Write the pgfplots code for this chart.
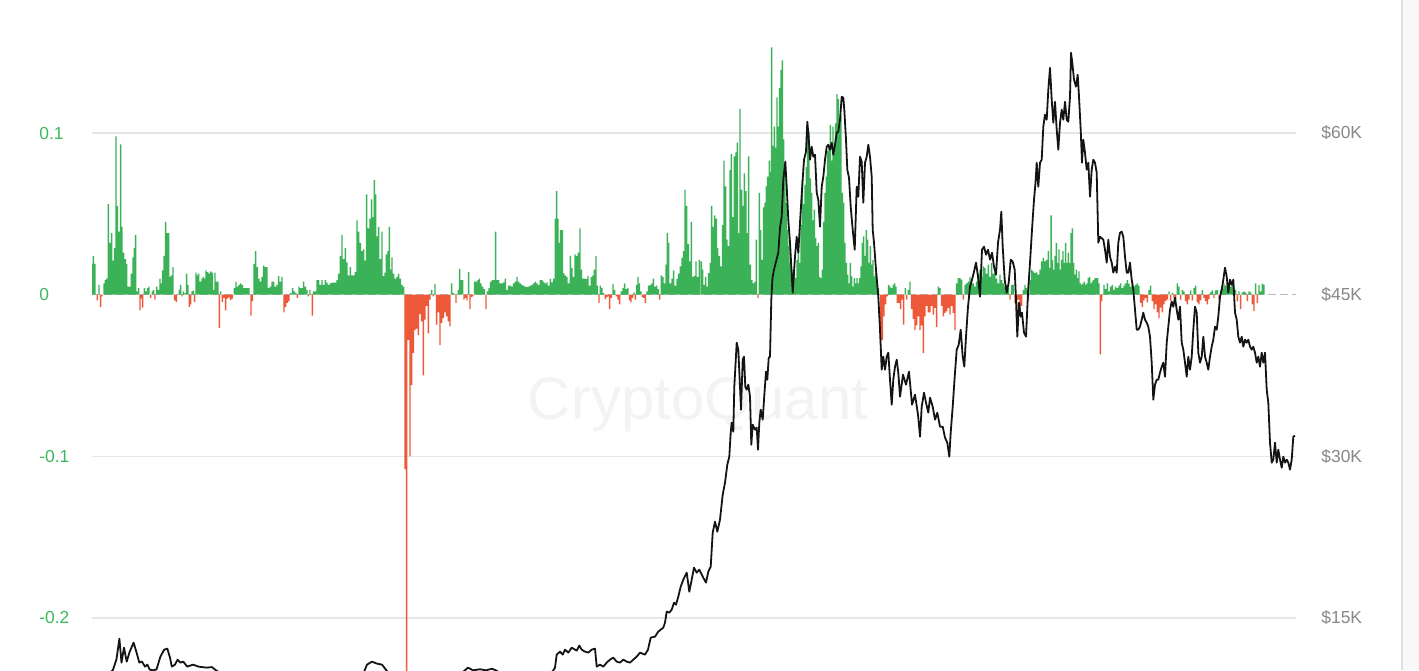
\documentclass[border=0pt]{standalone}
\usepackage{fontspec}
\setmainfont{Liberation Sans}
\usepackage{pgfplots}
\usepackage{pgfplotstable}
\pgfplotsset{compat=1.18}
\definecolor{cqgreen}{RGB}{59,178,88}
\definecolor{cqred}{RGB}{236,88,56}
\definecolor{gridc}{RGB}{229,229,234}
\definecolor{zeroc}{RGB}{185,185,190}
\definecolor{lblgreen}{RGB}{62,184,92}
\definecolor{lblgray}{RGB}{135,135,140}
\definecolor{wm}{RGB}{243,243,246}
\definecolor{sbfill}{RGB}{248,248,249}
\definecolor{sbline}{RGB}{222,222,230}

\pgfplotstableread{
x v
91.7 0.019
93.3 0.024
95 0.019
97.3 -0.0035
99 0.006
100.7 -0.0076
102 -0.001
104 0.007
105.3 0.009
106.7 0.010
108.3 0.056
110 0.032
111.7 0.038
113.3 0.021
114.7 0.029
116 0.098
117.3 0.055
119 0.039
120.7 0.093
122 0.042
123.7 0.026
125.3 0.022
126.7 0.019
128.3 0.005
130 0.005
131.3 0.013
133 0.023
134.3 0.029
135.7 0.037
137.3 0.002
138.7 0.004
140 -0.0097
141.3 -0.0025
142.7 -0.008
144.3 0.004
146 0.002
147.7 0.004
149 0.005
150.7 -0.002
152.3 0.002
153.7 0.003
155 -0.003
156.7 0.005
158.3 0.003
160 0.010
161.3 0.007
162.7 0.015
164 0.024
165.7 0.045
167.3 0.038
168.7 0.038
170 0.011
171.3 0.012
173 0.017
174.7 -0.0035
176.3 -0.0045
179.3 0.003
180.7 0.006
182 -0.001
183.3 0.002
185.3 0.001
186.7 0.013
188 0.006
189.3 -0.0076
190.7 -0.006
192 0.002
193.3 0.0025
194.7 -0.0045
196 0.0136
197.3 0.012
198.7 0.013
200.3 0.008
202 0.010
203.3 0.011
204.7 0.010
206 0.015
207.7 0.014
209.3 0.013
210.7 0.0144
212.3 0.0136
213.7 0.003
215 0.0136
216.7 0.008
218 0.008
219.3 -0.0206
220.7 0.002
222.3 -0.0045
224 -0.002
225.7 -0.0097
227.3 -0.0025
229 -0.0016
230.7 -0.0033
232.3 -0.0025
234.3 0.004
236 0.008
237.3 0.005
239 0.006
240.7 0.007
242.3 0.006
244 0.004
245.7 0.004
247.3 0.004
249 0.004
251 -0.013
252.3 -0.004
254 0.019
255.7 0.027
257.3 0.017
259 0.010
260.7 0.008
262 0.011
263.7 0.018
265.3 0.017
267 0.017
268.7 0.004
270.3 0.005
272 0.008
273.7 0.008
275.3 0.005
277 0.006
278.7 0.0115
280.3 0.008
282 0.011
284 -0.011
285.7 -0.0076
287.3 -0.005
289 -0.004
290.7 0.001
292.7 0.004
294.3 0.002
296 0.001
297.3 -0.002
299 0.005
300.3 0.004
302 0.004
303.7 0.008
305.3 0.005
307 0.003
308.3 -0.001
310 0.003
312.3 -0.013
313.7 0.002
315.3 0.002
317 0.009
318.7 0.009
320.3 0.006
322 0.009
323.7 0.006
325.3 0.009
327 0.0074
328.7 0.006
330.3 0.007
332 0.0074
333.7 0.0074
335.3 0.0074
337 0.009
338.7 0.013
340.3 0.024
342 0.037
343.7 0.022
345.3 0.029
347 0.020
348.7 0.012
350.3 0.017
352 0.012
353.7 0.012
355.3 0.014
357 0.046
358.7 0.039
360.3 0.032
362 0.027
363.7 0.028
365.3 0.021
366.7 0.062
368.3 0.041
370 0.047
371.7 0.059
373 0.048
374.3 0.071
375.7 0.062
377.3 0.036
378.7 0.042
380.3 0.022
382 0.039
383.7 0.0115
385 0.0136
386.3 0.025
388 0.027
389.3 0.042
390.7 0.0155
392 0.023
393.7 0.013
395.3 0.010
397 0.011
398.7 0.013
400.3 0.010
402 0.006
403.7 0.005
405 -0.108
406.7 -0.30
408.3 -0.028
410 -0.100
411.7 -0.056
413.3 -0.036
415 -0.022
416.7 -0.021
418.3 -0.025
420 -0.012
421.7 -0.0165
423.3 -0.050
425 -0.0155
426.7 -0.007
428.3 -0.024
430 -0.003
431.7 0.003
433.3 -0.001
435 0.0066
436.7 -0.0185
438.3 -0.011
440 -0.031
441.7 -0.0175
443.3 -0.0145
445 -0.011
446.7 -0.0134
448.3 -0.0165
450 -0.0196
451.7 0.007
453.3 0.001
456 -0.005
458.3 0.003
459.7 0.016
461.3 0.009
462.7 0.009
464 -0.003
465.7 -0.002
467 -0.0035
468.7 0.014
470 -0.009
471.3 -0.0015
473 -0.001
474.7 0.008
476.3 0.008
478 0.009
479.3 0.010
481 0.007
482.7 0.005
484.3 0.0035
486 -0.009
487.3 0.002
489 0.004
490.7 0.008
492.3 0.009
494 0.009
495.7 0.039
497 0.009
498.7 0.009
500.3 0.007
502 0.007
503.7 0.0076
505.3 0.010
507 0.003
508.7 0.0056
510.3 0.0056
512 0.005
513.7 0.007
515.3 0.008
517 0.011
518.7 0.008
520.3 0.007
522 0.006
523.7 0.0056
525.3 0.005
527 0.0047
528.7 0.005
530.3 0.0056
532 0.006
533.7 0.007
535.3 0.008
537 0.007
538.7 0.006
540.3 0.009
542 0.009
543.7 0.008
545.3 0.007
547 0.0076
548.7 0.0056
550.3 0.0097
552 0.0076
553.7 0.010
555.3 0.047
556.7 0.064
558 0.047
559.3 0.032
560.7 0.040
562.3 0.040
563.7 0.0134
565.3 0.012
567 0.011
568.7 0.007
570.3 0.024
572 0.0165
573.7 0.011
575 0.025
576.7 0.024
578.3 0.026
580 0.041
581.3 0.0155
583 0.010
584.7 0.010
586.3 0.0097
588 0.0117
589.7 0.0056
591.3 0.011
593 0.012
594.3 0.0155
596 0.024
597.3 0.0056
599 -0.005
600.3 0.0056
602 0.004
603.7 0.001
605.3 -0.0027
607 -0.0015
608.7 -0.001
609.7 -0.009
611.3 -0.002
613 0.0066
614.7 0.003
616.3 -0.001
618 -0.003
619.7 -0.006
621.3 0.002
623 0.004
624.7 0.007
626.3 0.0035
628 0.004
629.7 -0.0035
631 -0.0047
632.7 -0.002
634 0.0014
635.3 -0.003
636.7 0.006
638 0.011
639.3 0.007
641 0.002
642.3 -0.0015
643.7 -0.002
645.3 -0.005
647 0.002
648.7 0.0056
650.3 0.006
652 0.007
653.3 0.010
655 0.005
656.7 0.0056
658.3 0.0035
659.7 -0.003
661.3 0.012
663 0.011
664.3 0.007
666 0.0186
667.3 0.038
668.7 0.032
670.3 0.007
672 0.010
673.7 0.015
675.3 0.0056
677 0.0097
678.7 0.013
680.3 0.0175
682 0.0227
683.7 0.027
685 0.065
686.7 0.055
688.3 0.0315
689.7 0.0206
691.3 0.045
693 0.011
694.7 0.0117
696 0.0206
697.7 0.011
699.3 0.0216
701.3 0.0206
702.7 0.0155
704.3 0.006
705.7 0.011
707.3 0.005
708.7 0.0134
710.3 0.0196
711.7 0.055
713.3 0.042
714.7 0.049
716.3 0.047
717.7 0.029
719.3 0.024
721 0.0175
722.7 0.043
724 0.083
725.7 0.067
727 0.034
728.7 0.030
730 0.077
731.3 0.087
733 0.048
734.3 0.0855
736 0.088
737.3 0.094
738.7 0.038
740 0.115
741.7 0.065
743 0.055
744.3 0.075
746 0.064
747.3 0.038
748.7 0.0855
750.3 0.0186
752 0.009
753.3 0.007
755 0.008
756.3 0.034
758 -0.002
759.3 0.063
760.7 0.040
762.3 0.0216
763.7 0.054
765 0.057
766.3 0.067
767.7 0.073
769.3 0.083
770.7 0.076
771.7 0.153
773 0.092
774.3 0.104
775.7 0.091
777 0.122
778.3 0.104
779.7 0.128
781 0.139
782.3 0.145
783.7 0.096
785 0.077
786.3 0.057
787.7 0.040
789 0.030
790.3 0.0196
791.7 0.0124
793 0.0155
794.3 0.0124
795.7 0.0103
797 0.0216
798.3 0.033
799.7 0.0196
801 0.043
802.3 0.071
803.7 0.056
805 0.068
806.3 0.079
807.7 0.098
809 0.101
810.3 0.072
811.7 0.063
813 0.046
814.3 0.0526
815.7 0.035
817 0.030
818.3 0.032
819.7 0.011
821 0.0103
822.3 0.0155
823.7 0.045
825 0.063
826.3 0.073
827.7 0.089
829 0.092
830.3 0.105
831.7 0.083
833 0.104
834.3 0.088
835.7 0.106
837 0.124
838.3 0.121
839.7 0.106
841 0.111
842.3 0.063
843.7 0.057
845 0.032
846.3 0.0196
847.7 0.0124
849 0.007
850.3 0.0196
851.7 0.0113
853 0.005
854.3 0.0103
855.7 0.007
857 0.0103
858.3 0.007
859.7 0.0103
861 0.0175
862.3 0.032
863.7 0.036
865 0.024
866.3 0.040
867.7 0.034
869 0.0196
870.3 0.030
871.7 0.0186
873 0.0216
874.3 0.0113
875.7 0.0134
877 0.0103
878.3 0.004
880.7 -0.029
882.3 -0.028
884 -0.0134
885.7 -0.006
887.3 -0.001
888.7 0.006
890 0.005
891.7 0.004
893.3 0.006
894.7 0.007
896 0.005
897.3 -0.005
899 -0.005
900.7 -0.009
902 -0.003
903.7 -0.0185
905.3 0.004
906.7 -0.003
908.3 0.003
910 0.008
911.7 -0.009
913.3 -0.015
915 -0.022
916.7 -0.019
918.3 -0.0134
920 -0.022
921.7 -0.019
923.3 -0.036
925 -0.0134
926.7 -0.007
928.3 -0.011
930 -0.011
931.7 -0.007
933.3 -0.0124
935 -0.0082
936.7 -0.020
938.3 0.005
940 0.004
941.7 -0.007
943.3 -0.0134
945 -0.0113
946.7 -0.0103
948.3 -0.0082
950 -0.0124
951.7 -0.007
953.3 -0.0113
955 -0.022
956.7 0.007
958.3 0.0103
960 0.0103
961.7 0.0093
963.3 -0.003
965 0.006
966.7 0.007
968.3 0.008
970 0.011
971.7 0.007
973.3 0.007
975 0.005
976.7 0.008
978.3 0.013
980 0.0155
981.7 0.011
983.3 0.0175
985 0.0165
986.7 0.013
988.3 0.0186
990 0.011
991.7 0.0196
993.3 0.013
995 0.014
996.7 0.010
998.3 0.007
1000 0.0124
1001.7 0.009
1003.3 0.007
1005 0.005
1006.7 0.006
1008.3 0.004
1010 -0.003
1011.7 0.006
1013.3 0.006
1015 -0.005
1016.7 -0.0134
1018.3 -0.003
1020 -0.009
1021.7 -0.007
1023.3 0.003
1025 0.006
1026.7 0.004
1028.3 -0.003
1030 0.009
1031.7 0.0155
1033.3 0.0144
1035 0.0134
1036.7 0.0138
1038.3 0.0124
1040 0.0155
1041.7 0.0206
1043.3 0.0227
1045 0.0206
1046.7 0.0216
1048.3 0.027
1050 0.0165
1051.2 0.049
1052.3 0.0216
1053.7 0.0155
1055 0.024
1056.3 0.032
1057.7 0.0196
1059 0.028
1060.3 0.0155
1061.7 0.0216
1063 0.027
1064.3 0.0196
1065.7 0.032
1067 0.0196
1068.3 0.026
1069.7 0.0196
1071 0.038
1072.3 0.041
1073.7 0.0196
1075 0.0124
1076.3 0.0155
1077.7 0.0103
1079 0.0144
1080.3 0.007
1081.7 0.006
1083 0.007
1084.3 0.008
1085.7 0.006
1087 0.007
1088.3 0.0103
1089.7 0.011
1091 0.007
1092.3 0.008
1093.7 0.009
1095 0.0103
1096.3 0.0103
1097.7 0.0103
1099 0.007
1100.3 -0.037
1101.7 -0.004
1104 0.006
1105.7 0.0035
1107.3 0.007
1109 0.002
1110.7 0.005
1112.3 0.006
1114 0.003
1115.7 0.005
1117.3 0.004
1119 0.0056
1120.7 0.007
1122.3 0.004
1124 0.0056
1125.7 0.007
1127.3 0.009
1129 0.0068
1130.7 0.005
1132.3 0.0076
1134 0.005
1135.7 0.006
1137.3 0.007
1139 0.0056
1140.7 -0.005
1142.3 -0.0076
1144 -0.0035
1145.7 -0.002
1147.3 -0.0047
1149 0.003
1150.7 0.0056
1152.3 -0.004
1154 -0.009
1155.7 -0.006
1157.3 -0.011
1159 -0.0145
1160.7 -0.008
1162.3 -0.011
1164 -0.006
1165.7 -0.004
1167.3 -0.003
1169 0.002
1170.7 -0.004
1172.3 0.001
1174 -0.002
1175.7 -0.003
1177.3 0.007
1179 0.005
1180.7 -0.003
1182.3 0.003
1184 0.002
1185.7 -0.004
1187.3 -0.006
1189 -0.003
1190.7 0.0027
1192.3 -0.0035
1194 0.004
1195.7 0.0056
1197.3 -0.0047
1199 -0.006
1200.7 -0.0035
1202.3 0.003
1204 -0.002
1205.7 -0.004
1207.3 -0.006
1209 -0.0027
1210.7 0.0014
1212.3 0.0027
1214 -0.002
1215.7 0.0027
1217.3 0.003
1219 -0.003
1220.7 0.003
1222.3 0.0035
1224 0.007
1225.7 0.0056
1227.3 0.0076
1229 0.005
1230.7 0.005
1232.3 0.0076
1234 0.004
1235.7 0.003
1237.3 -0.004
1239 0.002
1240.7 -0.009
1242.3 0.0014
1244 0.002
1245.7 0.0014
1247.3 -0.004
1249 0.002
1250.7 0.0014
1252.3 -0.006
1254 -0.010
1255.7 0.007
1257.3 -0.005
1259 0.006
1260.7 0.002
1262.3 0.0068
1264 0.0062
}\bars

\pgfplotstableread{
x p
92 8800
100 9300
106 9700
110 9900
113 10200
116.4 11143
119.4 13091
121.5 10864
124 12256
126.7 10956
129.7 11884
133.6 12719
136.6 11791
139.3 10864
142 10956
145 10493
147.4 10678
149.7 10215
153 10150
156.5 10230
160.4 11420
164.2 12070
167.3 12163
170 11328
171.8 10493
175 10678
177.6 11143
180.3 10864
183.3 10956
187.2 10493
193 10678
198.6 10493
206.3 10400
212 10450
216 10150
222 9800
235 9300
250 8200
270 8300
290 7800
310 7200
330 7300
345 8000
358 9000
364 10000
367 10678
372 10956
377 10771
382 10678
386 10200
392 9500
400 8700
406 5500
412 6500
420 6800
430 7000
440 7500
450 8700
458 9200
463 10000
468 10400
473 10150
480 10250
486 10150
492 10300
497 10100
502 9500
510 9300
520 9200
530 9300
540 9500
548 9700
553 10100
555 10400
556.7 11606
560 11884
562.7 11606
565 12070
568.3 11791
571.7 12256
576.7 11977
579.3 12442
581.7 12070
585 11884
588.3 11791
591.7 12070
595 12163
596.7 10493
600 10678
603.3 10493
606.7 10864
610 11143
613.3 11328
616.7 10956
620 10864
623.3 11143
626.7 10956
630 10864
633.3 11143
636.7 11420
640 11791
645 11606
648 12070
650.7 13184
655 13276
658.3 13740
660.7 13925
663.3 14111
665 14575
666.7 15595
669.3 15502
671.7 15781
674 16430
676 16244
678.3 16987
680.7 17914
683.3 18563
686.7 19212
689.3 17450
691.7 18563
694 19677
696.7 19212
699.3 19491
702.7 18842
706 18285
708.3 19305
710.7 19769
712.7 22923
715 23943
717.3 23015
720 24129
722.7 26448
725 27561
727.3 29231
729.3 29973
730.7 32199
731.7 33127
733.3 32292
734.3 36466
736.7 40548
738.3 39898
740 36466
741 34333
742.7 38971
744 39249
745.3 36466
746.7 36188
748.3 36652
750 35538
751.3 31086
752.7 32941
755 32477
756.7 32663
758 30622
759.3 33127
760.7 34333
762.7 33405
764 35260
766 37857
767.3 37115
768.7 39156
770 39249
771.3 44536
772.5 46577
774 47319
776 48061
778.3 48896
780 51215
781.7 52235
783.3 55667
785.3 57337
786.7 55018
788.3 51957
790 49824
792.7 45186
795 48525
796.7 50380
798.3 48896
800 51679
802 54740
804 57523
806 58265
807.3 61047
808.7 59563
810 57523
811.7 58728
813.3 57801
815 57986
816.7 54462
818.3 53812
820 51308
821.7 55018
823.3 55946
825 57523
826.7 58728
828.3 58914
830 58450
831.7 59100
833.3 57986
835 58914
836.7 60027
838.3 60120
840 61233
841.7 63366
843.3 63274
844.3 62161
846 59378
847.3 56595
849 55853
850.7 53163
852.7 51029
854.7 49174
856.7 55018
858.3 54090
860 57801
861.7 57337
863.3 53534
865 57244
866.7 57801
868.3 58914
870 57801
871.7 55946
872.7 51029
874 49824
876 47319
878.3 44814
880 41753
881.7 38043
883.3 39249
885 38043
886.7 39249
888.3 39620
890 37115
891.7 34796
893.3 37115
895 38321
896.7 38971
898.3 37765
900 35538
903 37579
906 36652
909 37857
912 34796
915 35724
918 33869
920 31828
921.7 34611
924 35909
926 34982
928.3 34054
930 35446
932.7 34611
935 33405
937.3 34054
940 32756
942.7 32756
945 31735
947.3 31272
949.3 29973
950.7 32199
952.7 34611
954.7 37394
956.7 39898
958.7 40362
960.7 41753
962.7 39249
964.3 38321
966 41104
968 43887
970 45742
972 46391
974 47133
976 47968
978 46670
980 44814
982 49174
984 49452
986 48710
988 49174
990 48247
992 48896
994 47597
996 46855
998 49824
1000 51029
1001.3 52699
1002.7 49452
1004.7 46391
1006.7 45186
1008.7 46113
1010.7 48247
1012.7 48061
1014.7 47319
1016 44536
1017.3 41104
1019 44258
1020.7 42959
1022 43330
1024 41475
1026 41104
1028 45186
1030 47968
1032 51029
1034 53812
1035.5 55389
1036.7 57244
1038.3 55018
1040 57244
1041.7 57523
1043.3 60584
1045 61697
1046.7 61233
1048.3 64016
1050 66057
1051.7 63088
1053.3 60955
1055 62903
1056.7 60305
1058.3 58450
1060 60955
1061.7 62161
1063.3 61233
1065 62903
1066.7 61233
1068.3 61047
1070 63366
1071 67448
1072.3 66520
1074 64943
1076 64294
1077.7 65407
1079 63366
1080.7 60305
1082 57244
1083.3 59378
1085 58172
1086.7 56595
1088.3 57244
1090 54090
1091.7 56595
1093.3 57523
1095 57244
1096.7 56317
1098.3 49824
1100 50380
1103.3 50102
1105 49174
1106.7 47968
1108.3 50102
1110 48525
1111.7 47968
1113.3 47041
1115 47597
1116.7 47041
1118.3 49824
1120 50751
1121.7 50844
1123.3 50380
1125 48525
1126.7 47041
1128.3 47041
1130 47968
1131.7 46391
1133.3 45464
1135 43609
1136.7 41753
1138.3 41753
1140 42032
1141.7 42681
1143.3 43330
1145 42681
1146.7 42403
1148.3 42032
1150 41104
1151.7 38692
1153.3 35260
1155 36652
1156.7 37115
1158.3 37115
1160 37765
1161.7 38321
1163.3 38692
1165 37394
1166.7 40548
1168.3 42032
1170 43609
1171.7 44351
1173.3 43887
1175 44722
1176.7 43609
1178.3 42681
1180 43887
1181.7 40548
1183.3 39898
1185 38692
1186.7 37394
1188.3 39249
1190 38043
1191.7 39249
1193.3 41753
1195 43887
1196.7 43330
1198.3 39620
1200 38692
1201.7 39249
1203.3 41104
1205 39249
1206.7 38692
1208.3 38043
1210 39249
1211.7 40177
1213.3 40826
1215 42032
1216.7 41753
1218.3 42959
1220 44814
1221.7 45464
1223.3 46391
1225 47505
1226.7 46670
1228.3 45186
1230 46391
1231.7 45928
1233.3 46391
1235 43330
1236.7 42681
1238.3 41104
1240 40548
1241.7 41104
1243.3 40177
1245 40826
1246.7 40548
1248.3 40826
1250 40177
1251.7 39898
1253.3 40177
1255 39620
1256.7 38692
1258.3 39249
1260 38321
1261.7 39620
1263.3 38692
1265 39620
1266.7 36188
1268.3 34982
1270 31272
1271.7 29416
1273.3 29695
1275 31272
1276.7 29416
1278.3 30622
1280 29695
1281.7 28953
1283.3 29973
1285 29416
1286.7 29695
1288.3 29416
1290 28767
1291.7 29695
1293.3 31828
1295 31921
}\price

\begin{document}
\begin{tikzpicture}
\path[use as bounding box] (0pt,0pt) rectangle (709.5pt,335pt);
\fill[sbfill] (701pt,0pt) rectangle (709.5pt,335pt);
\draw[sbline, line width=0.6pt] (701pt,0pt) -- (701pt,335pt);
\begin{axis}[
  at={(46pt,0pt)}, anchor=south west,
  scale only axis, width=602pt, height=335pt,
  xmin=92, xmax=1296, ymin=-0.2322, ymax=0.1823,
  hide x axis,
  axis y line*=left,
  y axis line style={draw=none},
  ytick={-0.2,-0.1,0.1},
  yticklabels={-0.2,-0.1,0.1},
  extra y ticks={0},
  extra y tick labels={0},
  extra y tick style={grid style={draw=zeroc, line width=0.6pt, dash pattern=on 4pt off 2pt}},
  major tick length=0pt,
  ymajorgrids,
  grid style={draw=gridc, line width=0.7pt},
  yticklabel style={anchor=west, xshift=-26.5pt, inner sep=0pt, text=lblgreen, font=\fontsize{8.7}{10}\selectfont},
  clip=true,
]
\node[anchor=base, text=wm, font=\fontsize{30}{36}\selectfont] at (axis cs:698,-0.0773) {CryptoQuant};
\addplot[ybar, bar width=1.45, bar shift=0pt, fill=cqgreen, draw=none, restrict y to domain=0:1] table[x=x, y=v] {\bars};
\addplot[ybar, bar width=1.45, bar shift=0pt, fill=cqred, draw=none, restrict y to domain=-1:0] table[x=x, y=v] {\bars};
\end{axis}
\begin{axis}[
  at={(46pt,0pt)}, anchor=south west,
  scale only axis, width=602pt, height=335pt,
  xmin=92, xmax=1296, ymin=10180, ymax=72340,
  hide x axis,
  axis y line*=right,
  y axis line style={draw=none},
  ytick={15000,30000,45000,60000},
  yticklabels={\$15K,\$30K,\$45K,\$60K},
  major tick length=0pt,
  yticklabel style={anchor=west, xshift=12.5pt, inner sep=0pt, text=lblgray, font=\fontsize{8.7}{10}\selectfont},
  clip=true,
]
\addplot[black!92, line width=0.9pt, line join=round] table[x=x, y=p] {\price};
\end{axis}
\end{tikzpicture}
\end{document}
